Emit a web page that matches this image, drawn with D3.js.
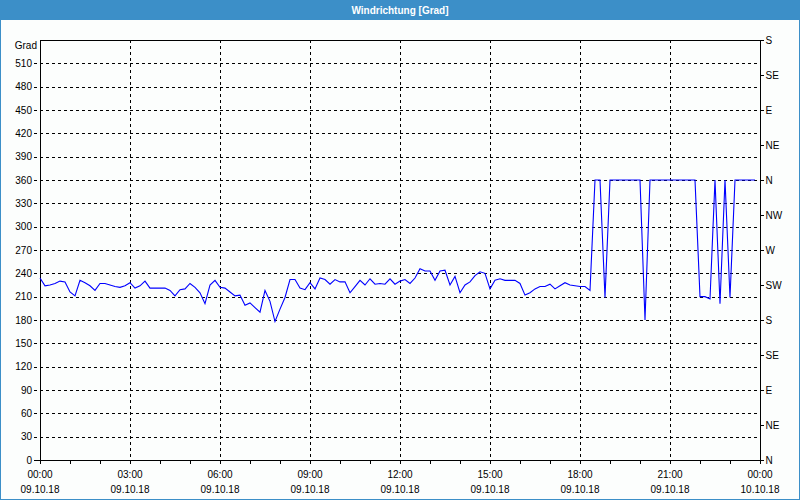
<!DOCTYPE html>
<html><head><meta charset="utf-8">
<script src="https://cdn.jsdelivr.net/npm/d3@7"></script>
<style>
body{margin:0;background:#fff}
svg{display:block}
text{font-family:"Liberation Sans",Arial,sans-serif}
</style>
</head><body>
<svg id="c" width="800" height="500"></svg>
<script>
const title = "Windrichtung [Grad]";
const yUnit = "Grad";
const startTime = new Date(2018, 9, 9, 0, 0);
const endTime = new Date(2018, 9, 10, 0, 0);
const stepMinutes = 10;
const yTicks = [0,30,60,90,120,150,180,210,240,270,300,330,360,390,420,450,480,510];
const dirTicks = [0,45,90,135,180,225,270,315,360,405,450,495,540];
const dirLabels = ["N","NE","E","SE","S","SW","W","NW","N","NE","E","SE","S"];
const values = [
234,224,225,227,230,229,216,211,231,228,224,218,227,227,225,223,222,224,
228,221,224,230,221,221,221,221,218,211,219,220,227,222,215,201,225,231,
222,221,216,211,212,199,202,196,190,218,204,178,194,209,232,232,221,219,
228,220,234,232,226,232,229,229,215,223,231,225,233,226,227,226,233,226,
230,232,227,234,246,243,243,231,243,244,225,236,215,225,229,237,242,240,
220,231,233,231,231,231,227,212,215,220,223,223,226,220,224,228,225,224,
223,223,218,360,360,209,360,360,360,360,360,360,360,180,360,360,360,360,
360,360,360,360,360,360,210,210,207,360,201,360,209,360,360,360,360,360
];

const W = 800, H = 500;
const svg = d3.select("#c");
const L = 40, R = 760, T = 40, B = 460;

svg.append("rect").attr("x",0).attr("y",0).attr("width",W).attr("height",H).attr("fill","#fcfefd");
svg.append("rect").attr("x",0.5).attr("y",0.5).attr("width",W-1).attr("height",H-1)
  .attr("fill","none").attr("stroke","#3c8fc8");
svg.append("rect").attr("x",0).attr("y",0).attr("width",W).attr("height",20).attr("fill","#3c8fc8");
svg.append("text").attr("x",W/2).attr("y",10).attr("dy","0.35em").attr("text-anchor","middle")
  .attr("fill","#fff").attr("font-weight","bold").attr("font-size",10).text(title);

const x = d3.scaleTime().domain([startTime,endTime]).range([L,R]);
const y = d3.scaleLinear().domain([0,540]).range([B,T]);

const times = values.map((v,i)=> new Date(startTime.getTime() + i*stepMinutes*60000));

// horizontal grid (extends left as ticks)
svg.append("g").selectAll("line").data(yTicks.filter(d=>d>0)).join("line")
  .attr("x1",34).attr("x2",R).attr("y1",d=>Math.round(y(d))+0.5).attr("y2",d=>Math.round(y(d))+0.5)
  .attr("stroke","#000").attr("stroke-dasharray","3,3").attr("shape-rendering","crispEdges");

// vertical grid
const majorTimes = d3.timeHour.every(3).range(startTime, endTime).filter(d=>+d>+startTime);
svg.append("g").selectAll("line").data(majorTimes).join("line")
  .attr("x1",d=>Math.round(x(d))+0.5).attr("x2",d=>Math.round(x(d))+0.5).attr("y1",T).attr("y2",B)
  .attr("stroke","#000").attr("stroke-dasharray","3,3").attr("shape-rendering","crispEdges");

// frame
const fr = svg.append("g").attr("stroke","#000").attr("shape-rendering","crispEdges");
fr.append("line").attr("x1",L+0.5).attr("x2",L+0.5).attr("y1",T).attr("y2",B+1);
fr.append("line").attr("x1",R+0.5).attr("x2",R+0.5).attr("y1",T).attr("y2",B+1);
fr.append("line").attr("x1",L).attr("x2",R+1).attr("y1",T+0.5).attr("y2",T+0.5);
fr.append("line").attr("x1",34).attr("x2",R+1).attr("y1",B+0.5).attr("y2",B+0.5);

// left axis labels
const yAxis = d3.axisLeft(y).tickValues(yTicks).tickSize(0).tickPadding(8);
const gy = svg.append("g").attr("transform",`translate(${L},0)`).call(yAxis);
gy.select(".domain").remove();
gy.selectAll("text").attr("font-size",10).attr("fill","#000").attr("font-family","Liberation Sans, Arial, sans-serif");
svg.append("text").attr("x",37).attr("y",45).attr("dy","0.35em").attr("text-anchor","end")
  .attr("font-size",10).attr("fill","#000").text(yUnit);

// right axis
const yAxisR = d3.axisRight(y).tickValues(dirTicks).tickFormat((d,i)=>dirLabels[i]).tickSize(3).tickPadding(2);
const gr = svg.append("g").attr("transform",`translate(${R+0.5},0)`).call(yAxisR);
gr.select(".domain").remove();
gr.selectAll("line").attr("stroke","#000").attr("shape-rendering","crispEdges");
gr.selectAll("text").attr("font-size",10).attr("fill","#000").attr("font-family","Liberation Sans, Arial, sans-serif");

// bottom axis: hourly minor ticks
const hours = d3.timeHour.every(1).range(startTime, new Date(+endTime+1));
svg.append("g").selectAll("line").data(hours).join("line")
  .attr("x1",d=>Math.round(x(d))+0.5).attr("x2",d=>Math.round(x(d))+0.5).attr("y1",B).attr("y2",B+4)
  .attr("stroke","#000").attr("shape-rendering","crispEdges");
const labelTimes = d3.timeHour.every(3).range(startTime, new Date(+endTime+1));
const fT = d3.timeFormat("%H:%M"), fD = d3.timeFormat("%d.%m.%y");
const gx = svg.append("g");
gx.selectAll("text.t").data(labelTimes).join("text").attr("class","t")
  .attr("x",d=>x(d)).attr("y",474).attr("dy","0.35em").attr("text-anchor","middle")
  .attr("font-size",10).attr("fill","#000").text(fT);
gx.selectAll("text.d").data(labelTimes).join("text").attr("class","d")
  .attr("x",d=>x(d)).attr("y",489).attr("dy","0.35em").attr("text-anchor","middle")
  .attr("font-size",10).attr("fill","#000").text(fD);

// data line
const line = d3.line().x((d,i)=>x(times[i])).y(d=>y(d));
svg.append("path").datum(values).attr("d",line).attr("fill","none")
  .attr("stroke","#0000ff").attr("stroke-width",1.1);
</script>
</body></html>
